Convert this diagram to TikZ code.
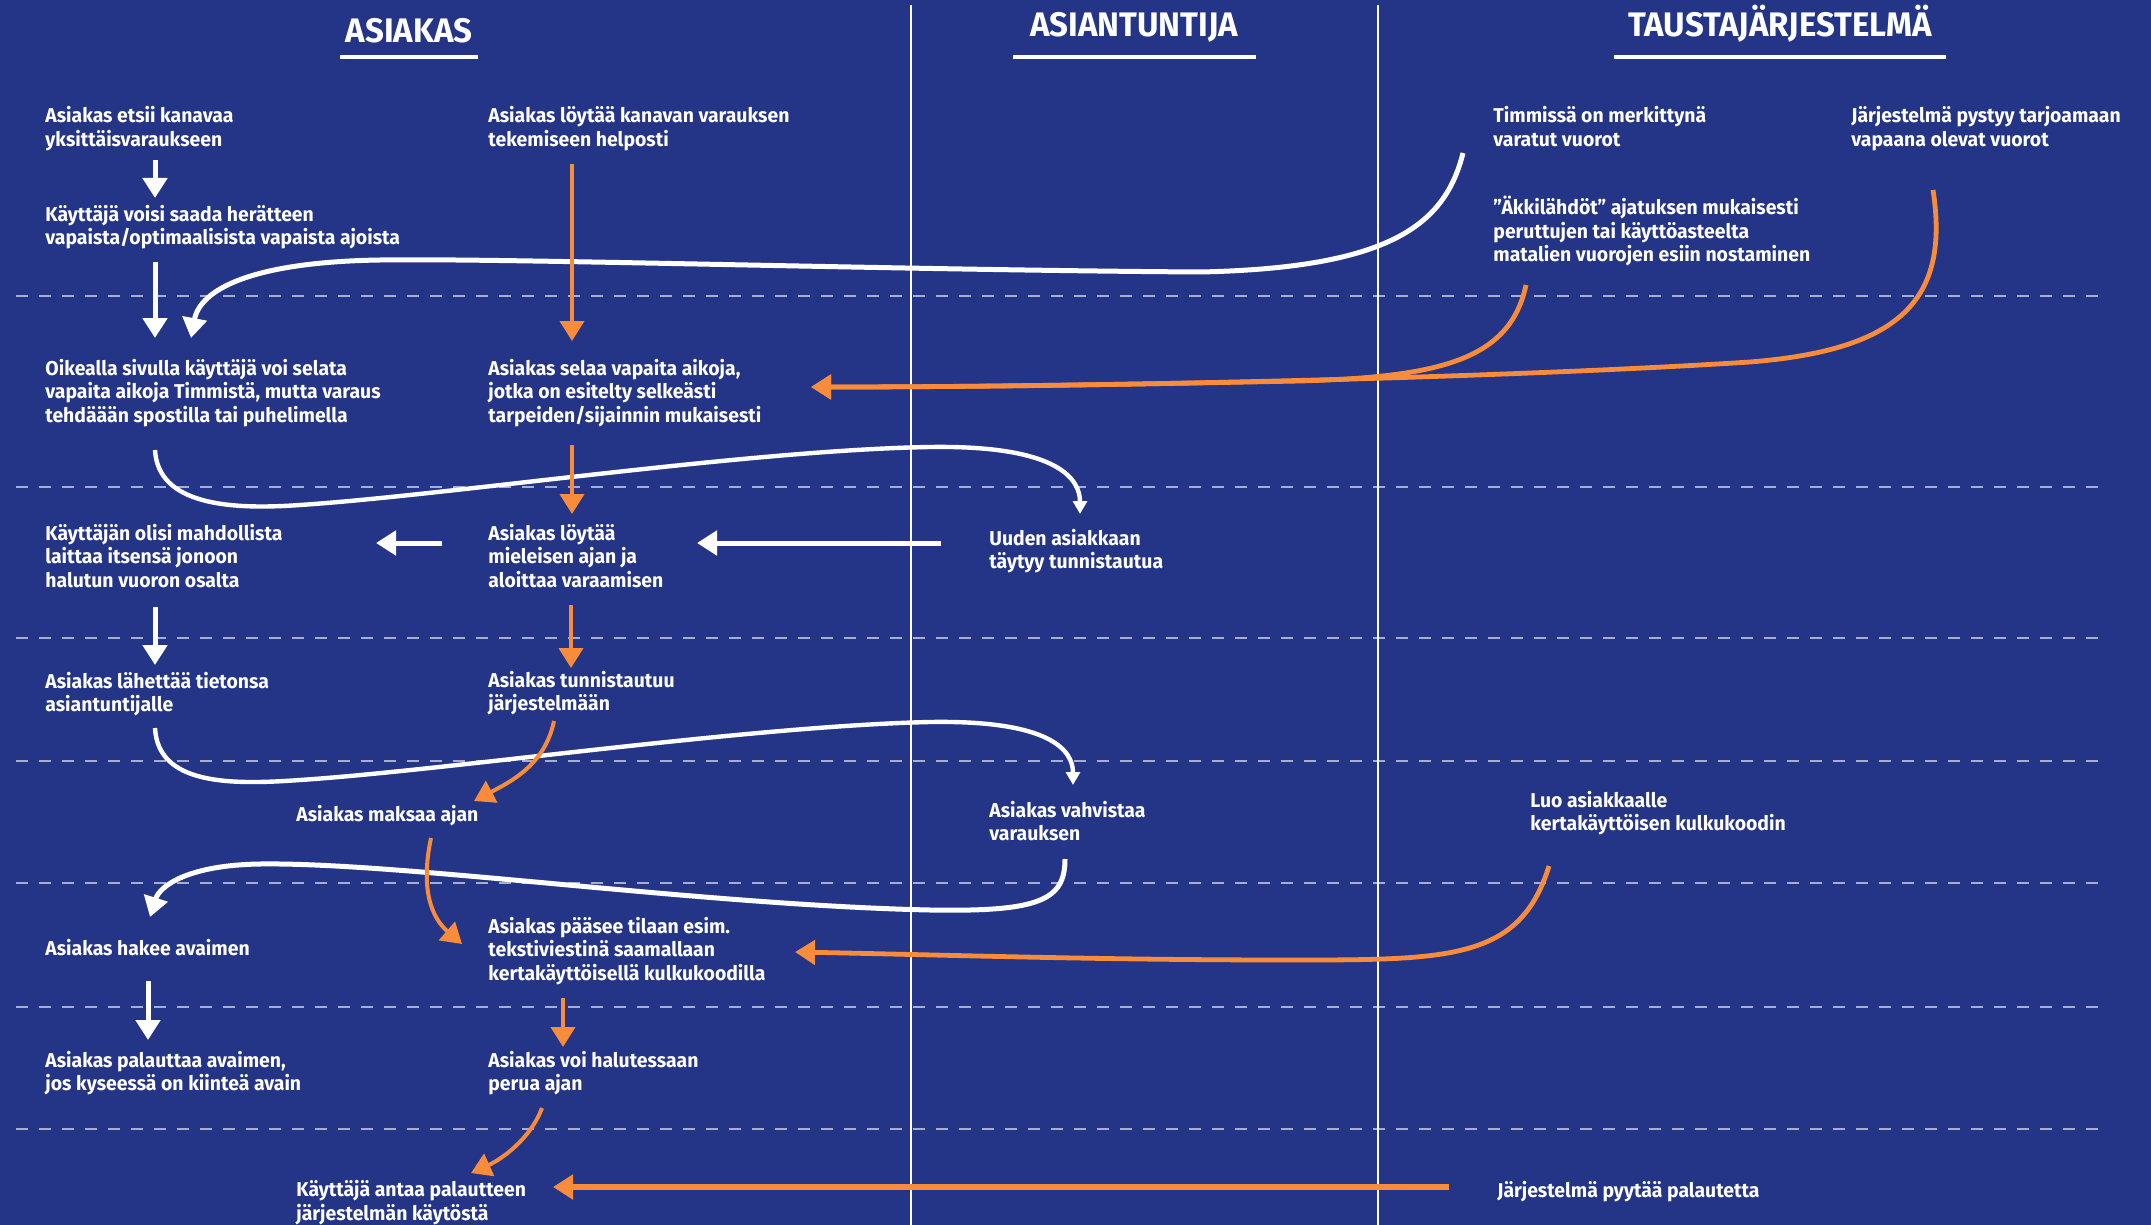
\documentclass[tikz,border=0pt]{standalone}
\usepackage{fontspec}
\setmainfont{Fira Sans}[FakeStretch=0.97]
\usetikzlibrary{arrows.meta}
\definecolor{navy}{RGB}{36,53,135}
\definecolor{accent}{RGB}{248,140,58}

\begin{document}
\begin{tikzpicture}[x=0.5pt,y=-0.5pt,
  % multi-line labels are anchored at the baseline of their last line
  txt/.style={anchor=base west, inner sep=0pt, align=left, text=white,
    font=\bfseries\fontsize{10}{11.75}\selectfont},
  hdr/.style={anchor=base, inner sep=0pt, text=white,
    font=\bfseries\fontsize{17}{19}\selectfont},
  hdrline/.style={white, line width=2pt},
  laneline/.style={white, line width=0.9pt},
  rowline/.style={white, opacity=0.6, line width=1.2pt, dash pattern=on 6pt off 5.5pt},
  wflow/.style={white, line width=2.5pt, -{Triangle[width=12pt,length=10pt]}},
  wthin/.style={white, line width=2.2pt, -{Triangle[width=7pt,length=6.5pt]}},
  oflow/.style={accent, line width=2pt, -{Triangle[width=12pt,length=10pt]}},
  ocurve/.style={accent, line width=2.4pt, -{Triangle[width=12pt,length=10pt]}},
]
% canvas
\fill[navy] (0,0) rectangle (2151,1225);
\useasboundingbox (0,0) rectangle (2151,1225);

% swimlane borders
\draw[laneline] (911,5) -- (911,1225);
\draw[laneline] (1378,5) -- (1378,1225);

% row separators
\foreach \yy in {296,487,638,761,883,1007,1129}
  \draw[rowline] (16,\yy) -- (2108,\yy);

% lane headings
\node[hdr] (hA) at (409,43) {ASIAKAS};
\node[hdr] (hB) at (1134,37) {ASIANTUNTIJA};
\node[hdr] (hC) at (1780,37) {TAUSTAJÄRJESTELMÄ};
\draw[hdrline] (340,57) -- (478,57);
\draw[hdrline] (1013,57) -- (1256,57);
\draw[hdrline] (1614,57) -- (1946,57);

% customer lane, left column
\node[txt] (n1) at (45,146.5) {Asiakas etsii kanavaa\\yksittäisvaraukseen};
\node[txt] (n2) at (45,244.5) {Käyttäjä voisi saada herätteen\\vapaista/optimaalisista vapaista ajoista};
\node[txt] (n3) at (45,422) {Oikealla sivulla käyttäjä voi selata\\vapaita aikoja Timmistä, mutta varaus\\tehdäään spostilla tai puhelimella};
\node[txt] (n4) at (45,587) {Käyttäjän olisi mahdollista\\laittaa itsensä jonoon\\halutun vuoron osalta};
\node[txt] (n5) at (45,711.5) {Asiakas lähettää tietonsa\\asiantuntijalle};
\node[txt] (n6) at (45,955) {Asiakas hakee avaimen};
\node[txt] (n7) at (45,1090.5) {Asiakas palauttaa avaimen,\\jos kyseessä on kiinteä avain};
\node[txt] (n8) at (296,821) {Asiakas maksaa ajan};
\node[txt] (n9) at (296,1220) {Käyttäjä antaa palautteen\\järjestelmän käytöstä};

% customer lane, right column
\node[txt] (n10) at (488,146.5) {Asiakas löytää kanavan varauksen\\tekemiseen helposti};
\node[txt] (n11) at (488,422) {Asiakas selaa vapaita aikoja,\\jotka on esitelty selkeästi\\tarpeiden/sijainnin mukaisesti};
\node[txt] (n12) at (488,587) {Asiakas löytää\\mieleisen ajan ja\\aloittaa varaamisen};
\node[txt] (n13) at (488,710.5) {Asiakas tunnistautuu\\järjestelmään};
\node[txt] (n14) at (488,980) {Asiakas pääsee tilaan esim.\\tekstiviestinä saamallaan\\kertakäyttöisellä kulkukoodilla};
\node[txt] (n15) at (488,1090.5) {Asiakas voi halutessaan\\perua ajan};

% expert lane
\node[txt] (n16) at (989,568.5) {Uuden asiakkaan\\täytyy tunnistautua};
\node[txt] (n17) at (989,840.5) {Asiakas vahvistaa\\varauksen};

% back-end lane
\node[txt] (n18) at (1493,146.5) {Timmissä on merkittynä\\varatut vuorot};
\node[txt] (n19) at (1493,262) {”Äkkilähdöt” ajatuksen mukaisesti\\peruttujen tai käyttöasteelta\\matalien vuorojen esiin nostaminen};
\node[txt] (n20) at (1530,830.5) {Luo asiakkaalle\\kertakäyttöisen kulkukoodin};
\node[txt] (n21) at (1497,1197) {Järjestelmä pyytää palautetta};
\node[txt] (n22) at (1851,146.5) {Järjestelmä pystyy tarjoamaan\\vapaana olevat vuorot};

% connector end points
\coordinate (a1s) at (155,160);  \coordinate (a1e) at (155,198);
\coordinate (a2s) at (155,262);  \coordinate (a2e) at (155,338);
\coordinate (a3s) at (1463,153); \coordinate (a3e) at (191,338);
\coordinate (a4s) at (155,450);  \coordinate (a4e) at (1080,514);
\coordinate (a5s) at (155,728);  \coordinate (a5e) at (1073,785);
\coordinate (a6s) at (1065,859); \coordinate (a6e) at (150,917);
\coordinate (a7s) at (442,543);  \coordinate (a7e) at (376,543);
\coordinate (a8s) at (941,543);  \coordinate (a8e) at (697,543);
\coordinate (a9s) at (155,607);  \coordinate (a9e) at (155,665);
\coordinate (a10s) at (148,981); \coordinate (a10e) at (148,1040);
\coordinate (o1s) at (572,164);  \coordinate (o1e) at (572,341);
\coordinate (o2s) at (572,445);  \coordinate (o2e) at (572,514);
\coordinate (o3s) at (571,605);  \coordinate (o3e) at (571,668);
\coordinate (o4s) at (554,721);  \coordinate (o4e) at (474,801);
\coordinate (o5s) at (431,838);  \coordinate (o5e) at (462,944);
\coordinate (o6s) at (563,998);  \coordinate (o6e) at (563,1047);
\coordinate (o7s) at (542,1108); \coordinate (o7e) at (471,1173);
\coordinate (o8s) at (1449,1187); \coordinate (o8e) at (553,1187);
\coordinate (o9s) at (1549,866); \coordinate (o9e) at (795,952);
\coordinate (o10s) at (1526,285); \coordinate (o11s) at (1933,190);
\coordinate (oxe) at (811,387);

% white flow (customer and expert)
\draw[wflow] (a1s) -- (a1e);
\draw[wflow] (a2s) -- (a2e);
\draw[wflow] (a3s) .. controls (1445,225) and (1390,268) .. (1200,272)
  .. controls (900,270) and (500,258) .. (380,260)
  .. controls (250,262) and (200,290) .. (a3e);
\draw[wthin] (a4s) .. controls (158,505) and (230,510) .. (300,505)
  .. controls (450,495) and (750,450) .. (930,447)
  .. controls (1060,445) and (1080,480) .. (a4e);
\draw[wthin] (a5s) .. controls (158,785) and (230,785) .. (300,780)
  .. controls (450,770) and (750,726) .. (930,722)
  .. controls (1050,720) and (1073,750) .. (a5e);
\draw[wflow] (a6s) .. controls (1065,900) and (1040,912) .. (930,910)
  .. controls (700,905) and (400,862) .. (260,864)
  .. controls (190,865) and (160,885) .. (a6e);
\draw[wflow] (a7s) -- (a7e);
\draw[wflow] (a8s) -- (a8e);
\draw[wflow] (a9s) -- (a9e);
\draw[wflow] (a10s) -- (a10e);

% orange flow (system supported path)
\draw[oflow] (o1s) -- (o1e);
\draw[oflow] (o2s) -- (o2e);
\draw[oflow] (o3s) -- (o3e);
\draw[oflow] (o4s) .. controls (545,765) and (510,782) .. (o4e);
\draw[oflow] (o5s) .. controls (420,890) and (432,918) .. (o5e);
\draw[oflow] (o6s) -- (o6e);
\draw[oflow] (o7s) .. controls (530,1140) and (500,1160) .. (o7e);
\draw[ocurve, line width=2.6pt] (o8s) -- (o8e);
\draw[ocurve] (o9s) .. controls (1520,960) and (1450,960) .. (1290,960)
  .. controls (1100,960) and (950,955) .. (o9e);
\draw[ocurve] (o10s) .. controls (1510,360) and (1440,377) .. (1300,381)
  .. controls (1100,385) and (950,387) .. (oxe);
\draw[ocurve] (o11s) .. controls (1950,300) and (1900,350) .. (1750,362)
  .. controls (1500,378) and (1100,387) .. (oxe);
\end{tikzpicture}
\end{document}
